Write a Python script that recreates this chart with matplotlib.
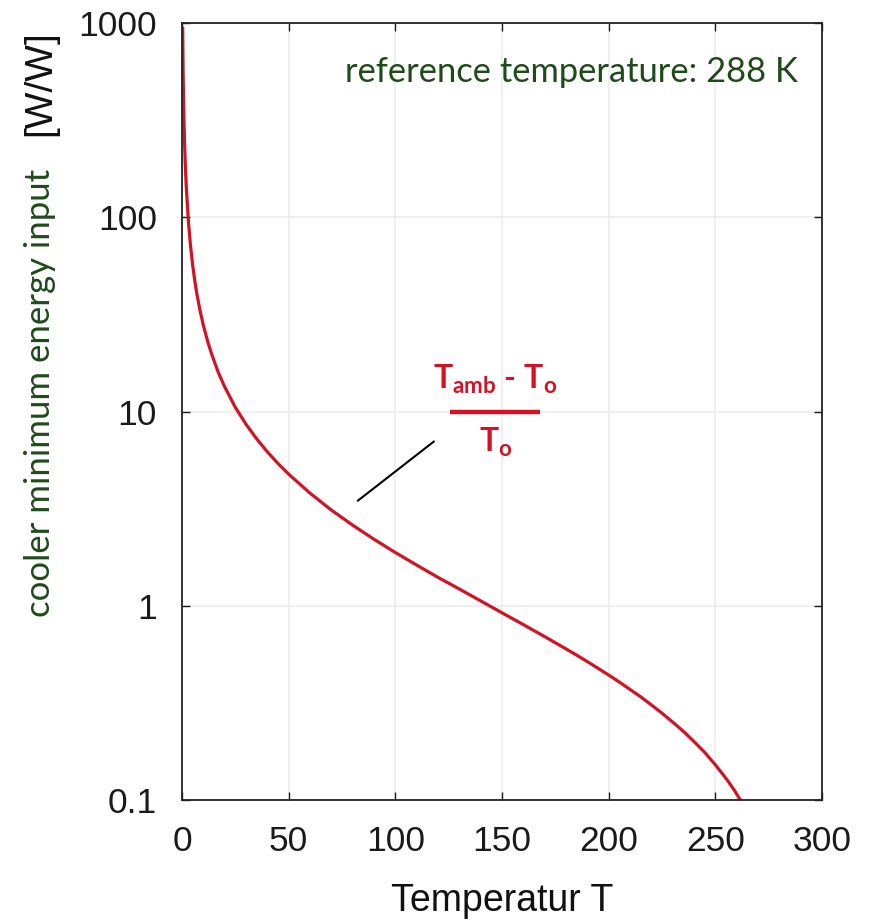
import matplotlib
matplotlib.use('Agg')
import matplotlib.pyplot as plt

# Werte (Temperatur T, Energieeinsatz W/W)
temp = [0.3, 0.5, 0.75, 1, 1.5, 2, 3, 4, 5, 6, 7, 8.5, 10, 12, 14, 17, 20, 25, 30,
        35, 40, 45, 50, 60, 70, 80, 90, 100, 110, 120, 130, 140, 150, 160, 170,
        180, 185, 190, 195, 200, 205, 210, 215, 220, 225, 230, 235, 240, 245,
        250, 253, 256, 259, 262]
energy = [959, 575, 383, 287, 191, 143, 95, 71, 56.6, 47, 40.1, 32.9, 27.8, 23,
          19.6, 15.9, 13.4, 10.5, 8.6, 7.23, 6.2, 5.4, 4.76, 3.8, 3.11, 2.6, 2.2,
          1.88, 1.62, 1.4, 1.22, 1.06, 0.92, 0.8, 0.694, 0.6, 0.557, 0.516, 0.477,
          0.44, 0.405, 0.371, 0.34, 0.309, 0.28, 0.252, 0.226, 0.2, 0.176, 0.152,
          0.138, 0.125, 0.112, 0.099]
xticks = [0, 50, 100, 150, 200, 250, 300]
yticks = [0.1, 1, 10, 100, 1000]
ytick_labels = ['0.1', '1', '10', '100', '1000']

plt.rcParams['font.family'] = ['Liberation Sans', 'DejaVu Sans']
plt.rcParams['mathtext.fontset'] = 'custom'
plt.rcParams['mathtext.rm'] = 'Lato'
plt.rcParams['mathtext.bf'] = 'Lato:bold'

green = '#1f4a1a'
red = '#d41224'

fig = plt.figure(figsize=(8.73, 9.22), dpi=100)
ax = fig.add_axes([0.2085, 0.1323, 0.733, 0.8427])

ax.plot(temp, energy, color=red, lw=2.3, solid_capstyle='butt')
ax.set_yscale('log')
ax.set_xlim(0, 300)
ax.set_ylim(0.1, 1000)
ax.set_xticks(xticks)
ax.set_yticks(yticks)
ax.set_yticklabels(ytick_labels)
ax.minorticks_off()
ax.tick_params(direction='in', length=6, width=1, top=True, right=True,
               labelsize=25.5, colors='#1a1a1a')
ax.tick_params(axis='x', pad=18)
ax.tick_params(axis='y', pad=18)
ax.grid(True, color='#ececec', lw=1.2)
ax.set_axisbelow(True)
for s in ax.spines.values():
    s.set_linewidth(1.3)
    s.set_color('#222222')

ax.set_xlabel('Temperatur T', fontsize=27, labelpad=18, color='#111111')

# y-Achsenbeschriftung (zweifarbig)
fig.text(0.046, 0.574, 'cooler minimum energy input', rotation=90, ha='center',
         va='center', fontsize=25, color=green, family='Lato')
fig.text(0.046, 0.910, '[W/W]', rotation=90, ha='center', va='center',
         fontsize=28, color='#111111')

ax.text(0.9625, 0.937, 'reference temperature: 288 K', transform=ax.transAxes,
        ha='right', va='center', fontsize=24.8, color=green, family='Lato')

# Formel mit Bruchstrich
ax.text(147, 14.6, r'$\mathbf{T_{amb}}$ - $\mathbf{T_{o}}$', ha='center',
        va='center', fontsize=23, color=red, family='Lato', fontweight='bold')
ax.plot([125.5, 168], [10, 10], color=red, lw=3.2, solid_capstyle='butt')
ax.text(147, 6.9, r'$\mathbf{T_{o}}$', ha='center', va='center', fontsize=23, color=red)
ax.plot([82.5, 118], [3.48, 7.0], color='black', lw=1.5)

fig.savefig('out.png', dpi=100)
